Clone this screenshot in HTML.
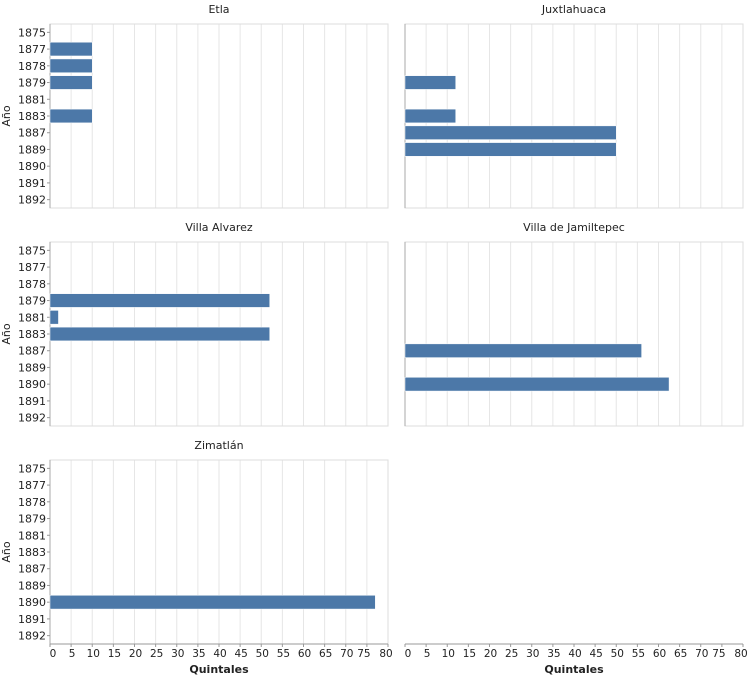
<!DOCTYPE html>
<html><head><meta charset="utf-8"><style>
body{margin:0;background:#fff;}
svg{display:block;font-family:"DejaVu Sans","Liberation Sans",sans-serif;}
</style></head><body>
<svg id="chart" width="748" height="679" viewBox="0 0 748 679"></svg>
<script>
const years = ["1875","1877","1878","1879","1881","1883","1887","1889","1890","1891","1892"];
const xTicks = [0,5,10,15,20,25,30,35,40,45,50,55,60,65,70,75,80];
const facetNames = ["Etla","Juxtlahuaca","Villa Alvarez","Villa de Jamiltepec","Zimatlán"];
const etlaValues = {"1877":10,"1878":10,"1879":10,"1883":10};
const juxtlahuacaValues = {"1879":12,"1883":12,"1887":50,"1889":50};
const villaAlvarezValues = {"1879":52,"1881":2,"1883":52};
const jamiltepecValues = {"1887":56,"1890":62.5};
const zimatlanValues = {"1890":77};
const facetValues = [etlaValues,juxtlahuacaValues,villaAlvarezValues,jamiltepecValues,zimatlanValues];

const NS="http://www.w3.org/2000/svg";
const svg=document.getElementById('chart');
function mk(tag,attrs,parent){const e=document.createElementNS(NS,tag);for(const k in attrs)e.setAttribute(k,attrs[k]);(parent||svg).appendChild(e);return e;}
const PW=338, PH=184, colX=[50,405], rowY=[24,242,460], xMax=80;
function makeX(x0){return v=>x0+v/xMax*PW;}
function makeY(y0){const step=PH/years.length;return {band:y=>y0+years.indexOf(y)*step, step};}

function drawPanel(i,col,row,hasData){
  const x0=colX[col], y0=rowY[row], X=makeX(x0), Y=makeY(y0);
  const g=mk('g',{});
  
  
  if(hasData){
    xTicks.forEach(t=>{const l=mk('line',{x1:X(t),x2:X(t),y1:y0,y2:y0+PH,stroke:'#e6e6e6','stroke-width':1},g);
      });
    const fr=mk('rect',{x:x0,y:y0,width:PW,height:PH,fill:'none',stroke:'#ddd'},g);
    
    const t=mk('text',{x:x0+PW/2,y:y0-11,'text-anchor':'middle','font-size':11,fill:'#222'},g);
    t.textContent=facetNames[i];
    
    const yl=mk('line',{x1:x0,x2:x0,y1:y0,y2:y0+PH,stroke:'#aaa'},g);
    
    if(col===0){
      years.forEach(yr=>{const cy=Y.band(yr)+Y.step/2;
        mk('line',{x1:x0-3,x2:x0,y1:cy,y2:cy,stroke:'#999'},g);
        const tl=mk('text',{x:x0-4,y:cy+4,'text-anchor':'end','font-size':11,fill:'#222'},g);
        tl.textContent=yr;});
      const yt=mk('text',{transform:`translate(${x0-40},${y0+PH/2}) rotate(-90)`,'text-anchor':'middle','font-size':11,fill:'#222'},g);
      yt.textContent='Año';
    }
    const vals=facetValues[i];
    Object.keys(vals).forEach(yr=>{const b=mk('rect',{x:X(0),y:Y.band(yr)+1.5,width:X(vals[yr])-X(0),height:Y.step-3,fill:'#4c78a8',stroke:'#fff','stroke-width':0.5},g);
      });
  }
  if(row===2){
    const by=y0+PH;
    const xl=mk('line',{x1:x0,x2:x0+PW,y1:by,y2:by,stroke:'#999'},g);
    
    xTicks.forEach(tv=>{mk('line',{x1:X(tv),x2:X(tv),y1:by,y2:by+3,stroke:'#999'},g);
      const tl=mk('text',{x:X(tv)+(tv===0?3:tv===75?-3:tv===80?-2:1),y:by+13,'text-anchor':'middle','font-size':10.5,fill:'#222'},g);
      tl.textContent=tv;});
    const xt=mk('text',{x:x0+PW/2,y:by+29,'text-anchor':'middle','font-size':11,'font-weight':'bold',fill:'#222'},g);
    xt.textContent='Quintales';
  }
}
drawPanel(0,0,0,true);drawPanel(1,1,0,true);drawPanel(2,0,1,true);drawPanel(3,1,1,true);drawPanel(4,0,2,true);drawPanel(5,1,2,false);
</script>
</body></html>
